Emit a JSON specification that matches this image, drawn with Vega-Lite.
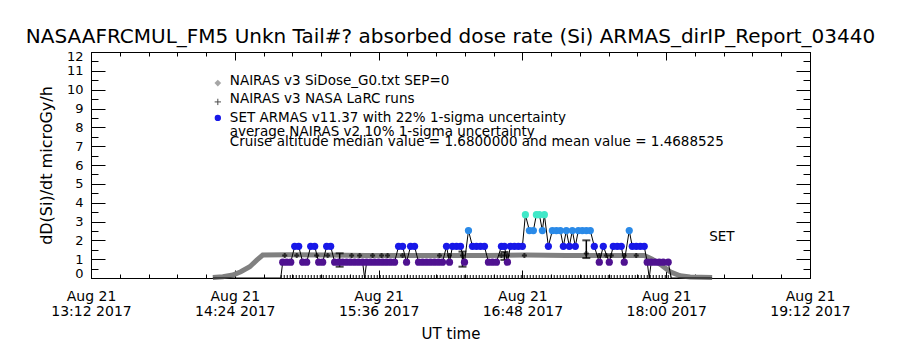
{
  "$schema": "https://vega.github.io/schema/vega-lite/v6.json",
  "width": 719,
  "height": 226,
  "autosize": "none",
  "padding": {"left": 91, "top": 52, "right": 90, "bottom": 72},
  "background": "white",
  "title": {"text": "NASAAFRCMUL_FM5 Unkn Tail#? absorbed dose rate (Si) ARMAS_dirIP_Report_03440", "font": "DejaVu Sans", "fontSize": 20, "fontWeight": "normal", "color": "black", "anchor": "middle", "frame": "group", "offset": 3},
  "config": {
    "view": {"stroke": null},
    "axis": {"grid": false, "domainColor": "black", "tickColor": "black", "labelColor": "black", "titleColor": "black", "labelFont": "DejaVu Sans", "titleFont": "DejaVu Sans", "titleFontWeight": "normal", "domainWidth": 1, "tickWidth": 1}
  },
  "datasets": {
    "nairas": [
      {"t": "2017-08-21T14:13:00Z", "v": 0.03},
      {"t": "2017-08-21T14:18:00Z", "v": 0.07},
      {"t": "2017-08-21T14:23:00Z", "v": 0.16},
      {"t": "2017-08-21T14:27:00Z", "v": 0.33},
      {"t": "2017-08-21T14:31:30Z", "v": 0.6},
      {"t": "2017-08-21T14:35:00Z", "v": 0.95},
      {"t": "2017-08-21T14:38:00Z", "v": 1.22},
      {"t": "2017-08-21T14:50:00Z", "v": 1.23},
      {"t": "2017-08-21T15:10:00Z", "v": 1.22},
      {"t": "2017-08-21T15:30:00Z", "v": 1.2},
      {"t": "2017-08-21T15:50:00Z", "v": 1.2},
      {"t": "2017-08-21T16:10:00Z", "v": 1.19},
      {"t": "2017-08-21T16:30:00Z", "v": 1.2},
      {"t": "2017-08-21T16:50:00Z", "v": 1.22},
      {"t": "2017-08-21T17:10:00Z", "v": 1.2},
      {"t": "2017-08-21T17:30:00Z", "v": 1.2},
      {"t": "2017-08-21T17:49:00Z", "v": 1.2},
      {"t": "2017-08-21T17:53:00Z", "v": 1.0},
      {"t": "2017-08-21T17:58:00Z", "v": 0.65},
      {"t": "2017-08-21T18:02:00Z", "v": 0.33},
      {"t": "2017-08-21T18:07:00Z", "v": 0.12},
      {"t": "2017-08-21T18:12:00Z", "v": 0.05},
      {"t": "2017-08-21T18:23:00Z", "v": 0.03}
    ],
    "ground": [
      {"t": "2017-08-21T14:47:00Z", "v": 0},
      {"t": "2017-08-21T18:02:30Z", "v": 0}
    ],
    "armas": [
      {"t": "2017-08-21T14:13:00Z", "v": 0},
      {"t": "2017-08-21T14:47:00Z", "v": 0},
      {"t": "2017-08-21T14:48:00Z", "v": 0.84},
      {"t": "2017-08-21T14:50:00Z", "v": 0.84},
      {"t": "2017-08-21T14:52:00Z", "v": 0.84},
      {"t": "2017-08-21T14:54:00Z", "v": 1.68},
      {"t": "2017-08-21T14:56:00Z", "v": 1.68},
      {"t": "2017-08-21T14:58:00Z", "v": 0.84},
      {"t": "2017-08-21T15:00:00Z", "v": 0.84},
      {"t": "2017-08-21T15:02:00Z", "v": 1.68},
      {"t": "2017-08-21T15:04:00Z", "v": 1.68},
      {"t": "2017-08-21T15:06:00Z", "v": 0.84},
      {"t": "2017-08-21T15:08:00Z", "v": 0.84},
      {"t": "2017-08-21T15:10:00Z", "v": 1.68},
      {"t": "2017-08-21T15:12:00Z", "v": 1.68},
      {"t": "2017-08-21T15:14:00Z", "v": 0.84},
      {"t": "2017-08-21T15:16:00Z", "v": 0.84},
      {"t": "2017-08-21T15:18:00Z", "v": 0.84},
      {"t": "2017-08-21T15:20:00Z", "v": 0.84},
      {"t": "2017-08-21T15:22:00Z", "v": 0.84},
      {"t": "2017-08-21T15:24:00Z", "v": 0.84},
      {"t": "2017-08-21T15:26:00Z", "v": 0.84},
      {"t": "2017-08-21T15:28:00Z", "v": 0.84},
      {"t": "2017-08-21T15:29:00Z", "v": 0},
      {"t": "2017-08-21T15:30:00Z", "v": 0.84},
      {"t": "2017-08-21T15:32:00Z", "v": 0.84},
      {"t": "2017-08-21T15:34:00Z", "v": 0.84},
      {"t": "2017-08-21T15:36:00Z", "v": 0.84},
      {"t": "2017-08-21T15:38:00Z", "v": 0.84},
      {"t": "2017-08-21T15:40:00Z", "v": 0.84},
      {"t": "2017-08-21T15:42:00Z", "v": 0.84},
      {"t": "2017-08-21T15:44:00Z", "v": 0.84},
      {"t": "2017-08-21T15:46:00Z", "v": 1.68},
      {"t": "2017-08-21T15:48:00Z", "v": 1.68},
      {"t": "2017-08-21T15:50:00Z", "v": 0.84},
      {"t": "2017-08-21T15:52:00Z", "v": 1.68},
      {"t": "2017-08-21T15:54:00Z", "v": 1.68},
      {"t": "2017-08-21T15:56:00Z", "v": 0.84},
      {"t": "2017-08-21T15:58:00Z", "v": 0.84},
      {"t": "2017-08-21T16:00:00Z", "v": 0.84},
      {"t": "2017-08-21T16:02:00Z", "v": 0.84},
      {"t": "2017-08-21T16:04:00Z", "v": 0.84},
      {"t": "2017-08-21T16:06:00Z", "v": 0.84},
      {"t": "2017-08-21T16:08:00Z", "v": 0.84},
      {"t": "2017-08-21T16:10:00Z", "v": 1.68},
      {"t": "2017-08-21T16:11:30Z", "v": 0.84},
      {"t": "2017-08-21T16:13:00Z", "v": 1.68},
      {"t": "2017-08-21T16:15:00Z", "v": 1.68},
      {"t": "2017-08-21T16:17:00Z", "v": 1.68},
      {"t": "2017-08-21T16:19:00Z", "v": 0.84},
      {"t": "2017-08-21T16:21:00Z", "v": 2.52},
      {"t": "2017-08-21T16:23:00Z", "v": 1.68},
      {"t": "2017-08-21T16:25:00Z", "v": 1.68},
      {"t": "2017-08-21T16:27:00Z", "v": 1.68},
      {"t": "2017-08-21T16:29:00Z", "v": 1.68},
      {"t": "2017-08-21T16:31:00Z", "v": 0.84},
      {"t": "2017-08-21T16:33:00Z", "v": 0.84},
      {"t": "2017-08-21T16:35:00Z", "v": 0.84},
      {"t": "2017-08-21T16:37:30Z", "v": 1.68},
      {"t": "2017-08-21T16:39:00Z", "v": 1.68},
      {"t": "2017-08-21T16:40:30Z", "v": 0.84},
      {"t": "2017-08-21T16:42:00Z", "v": 1.68},
      {"t": "2017-08-21T16:44:00Z", "v": 1.68},
      {"t": "2017-08-21T16:46:00Z", "v": 1.68},
      {"t": "2017-08-21T16:48:00Z", "v": 1.68},
      {"t": "2017-08-21T16:49:30Z", "v": 3.36},
      {"t": "2017-08-21T16:51:30Z", "v": 2.52},
      {"t": "2017-08-21T16:53:30Z", "v": 2.52},
      {"t": "2017-08-21T16:55:00Z", "v": 3.36},
      {"t": "2017-08-21T16:56:30Z", "v": 3.36},
      {"t": "2017-08-21T16:58:00Z", "v": 2.52},
      {"t": "2017-08-21T16:59:00Z", "v": 3.36},
      {"t": "2017-08-21T17:01:00Z", "v": 1.68},
      {"t": "2017-08-21T17:03:00Z", "v": 2.52},
      {"t": "2017-08-21T17:05:00Z", "v": 2.52},
      {"t": "2017-08-21T17:07:00Z", "v": 2.52},
      {"t": "2017-08-21T17:08:30Z", "v": 1.68},
      {"t": "2017-08-21T17:10:00Z", "v": 2.52},
      {"t": "2017-08-21T17:11:30Z", "v": 1.68},
      {"t": "2017-08-21T17:13:00Z", "v": 2.52},
      {"t": "2017-08-21T17:14:30Z", "v": 1.68},
      {"t": "2017-08-21T17:16:00Z", "v": 2.52},
      {"t": "2017-08-21T17:18:00Z", "v": 2.52},
      {"t": "2017-08-21T17:20:00Z", "v": 2.52},
      {"t": "2017-08-21T17:22:00Z", "v": 2.52},
      {"t": "2017-08-21T17:24:00Z", "v": 1.68},
      {"t": "2017-08-21T17:26:30Z", "v": 0.84},
      {"t": "2017-08-21T17:28:30Z", "v": 1.68},
      {"t": "2017-08-21T17:31:30Z", "v": 0.84},
      {"t": "2017-08-21T17:33:30Z", "v": 1.68},
      {"t": "2017-08-21T17:35:30Z", "v": 1.68},
      {"t": "2017-08-21T17:37:30Z", "v": 1.68},
      {"t": "2017-08-21T17:39:00Z", "v": 0.84},
      {"t": "2017-08-21T17:41:30Z", "v": 2.52},
      {"t": "2017-08-21T17:43:00Z", "v": 1.68},
      {"t": "2017-08-21T17:45:00Z", "v": 1.68},
      {"t": "2017-08-21T17:47:00Z", "v": 1.68},
      {"t": "2017-08-21T17:49:00Z", "v": 1.68},
      {"t": "2017-08-21T17:50:30Z", "v": 0.84},
      {"t": "2017-08-21T17:51:30Z", "v": 0},
      {"t": "2017-08-21T17:52:30Z", "v": 0.84},
      {"t": "2017-08-21T17:54:30Z", "v": 0.84},
      {"t": "2017-08-21T17:56:30Z", "v": 0.84},
      {"t": "2017-08-21T17:58:30Z", "v": 0.84},
      {"t": "2017-08-21T18:01:00Z", "v": 0.84},
      {"t": "2017-08-21T18:02:30Z", "v": 0},
      {"t": "2017-08-21T18:23:00Z", "v": 0}
    ],
    "larc": [
      {"t": "2017-08-21T14:49:00Z", "v": 1.2},
      {"t": "2017-08-21T14:55:00Z", "v": 1.2},
      {"t": "2017-08-21T15:05:00Z", "v": 1.2},
      {"t": "2017-08-21T15:10:30Z", "v": 1.2},
      {"t": "2017-08-21T15:22:30Z", "v": 1.2},
      {"t": "2017-08-21T15:26:30Z", "v": 1.2},
      {"t": "2017-08-21T15:33:00Z", "v": 1.2},
      {"t": "2017-08-21T15:37:30Z", "v": 1.2},
      {"t": "2017-08-21T15:40:30Z", "v": 1.2},
      {"t": "2017-08-21T15:48:00Z", "v": 1.2},
      {"t": "2017-08-21T16:06:30Z", "v": 1.2},
      {"t": "2017-08-21T16:11:30Z", "v": 1.2},
      {"t": "2017-08-21T16:18:00Z", "v": 1.2},
      {"t": "2017-08-21T16:37:30Z", "v": 1.2},
      {"t": "2017-08-21T16:40:30Z", "v": 1.2},
      {"t": "2017-08-21T16:49:00Z", "v": 1.2},
      {"t": "2017-08-21T17:20:00Z", "v": 1.3},
      {"t": "2017-08-21T17:26:30Z", "v": 1.2},
      {"t": "2017-08-21T17:30:00Z", "v": 1.2},
      {"t": "2017-08-21T17:32:30Z", "v": 1.2},
      {"t": "2017-08-21T17:39:00Z", "v": 1.2},
      {"t": "2017-08-21T17:45:00Z", "v": 1.2}
    ],
    "larcerr": [
      {"t": "2017-08-21T15:16:30Z", "lo": 0.6, "hi": 1.31},
      {"t": "2017-08-21T16:18:00Z", "lo": 0.6, "hi": 1.4},
      {"t": "2017-08-21T16:39:00Z", "lo": 0.96, "hi": 1.38},
      {"t": "2017-08-21T17:20:00Z", "lo": 1.06, "hi": 2.0}
    ],
    "legsym": [
      {"t": "2017-08-21T14:15:30Z", "v": 10.35, "k": "gray"},
      {"t": "2017-08-21T14:15:30Z", "v": 9.35, "k": "plus"},
      {"t": "2017-08-21T14:15:30Z", "v": 8.5, "k": "blue"}
    ],
    "notes": [
      {"t": "2017-08-21T14:21:30Z", "v": 10.46, "text": "NAIRAS v3 SiDose_G0.txt SEP=0"},
      {"t": "2017-08-21T14:21:30Z", "v": 9.5, "text": "NAIRAS v3 NASA LaRC runs"},
      {"t": "2017-08-21T14:21:30Z", "v": 8.52, "text": "SET ARMAS v11.37 with 22% 1-sigma uncertainty"},
      {"t": "2017-08-21T14:21:30Z", "v": 7.73, "text": "average NAIRAS v2 10% 1-sigma uncertainty"},
      {"t": "2017-08-21T14:21:30Z", "v": 7.22, "text": "Cruise altitude median value = 1.6800000 and mean value = 1.4688525"},
      {"t": "2017-08-21T18:21:30Z", "v": 2.18, "text": "SET"}
    ]
  },
  "resolve": {"axis": {"x": "independent", "y": "independent"}},
  "layer": [
    {
      "data": {"name": "nairas"},
      "mark": {"type": "line", "color": "#808080", "strokeWidth": 5},
      "encoding": {
        "x": {"field": "t", "type": "temporal",
          "scale": {"type": "utc", "domain": [1503321120000, 1503342720000], "nice": false},
          "axis": {"orient": "bottom",
            "values": [1503321120000,1503325440000,1503329760000,1503334080000,1503338400000,1503342720000],
            "labelExpr": "['Aug 21', utcFormat(datum.value, '%H:%M %Y')]",
            "labelFontSize": 14, "labelLineHeight": 15, "labelPadding": 19, "labelFlush": false, "labelOverlap": false, "labelBound": false,
            "tickSize": -8,
            "title": "UT time", "titleFontSize": 15, "titlePadding": 8}
        },
        "y": {"field": "v", "type": "quantitative",
          "scale": {"domain": [0, 12], "nice": false},
          "axis": {"orient": "left",
            "values": [0,1,2,3,4,5,6,7,8,9,10,11,12],
            "format": "d",
            "labelFontSize": 13, "labelPadding": 22, "labelFlush": true, "labelFlushOffset": 2, "labelOverlap": false,
            "tickSize": -14,
            "title": "dD(Si)/dt microGy/h", "titleFontSize": 16, "titlePadding": 12}
        }
      }
    },
    {
      "data": {"name": "ground"},
      "mark": {"type": "line", "color": "black", "strokeWidth": 6, "strokeDash": [1, 2], "clip": true},
      "encoding": {
        "x": {"field": "t", "type": "temporal",
          "axis": {"orient": "top",
            "values": [1503321120000,1503325440000,1503329760000,1503334080000,1503338400000,1503342720000],
            "labels": false, "tickSize": -8, "title": null}
        },
        "y": {"field": "v", "type": "quantitative",
          "axis": {"orient": "right",
            "values": [0,1,2,3,4,5,6,7,8,9,10,11,12],
            "labels": false, "tickSize": -14, "title": null}
        }
      }
    },
    {
      "data": {"name": "armas"},
      "mark": {"type": "line", "color": "black", "strokeWidth": 1},
      "encoding": {
        "x": {"field": "t", "type": "temporal",
          "axis": {"orient": "bottom",
            "values": [1503321984000,1503322848000,1503323712000,1503324576000,1503326304000,1503327168000,1503328032000,1503328896000,1503330624000,1503331488000,1503332352000,1503333216000,1503334944000,1503335808000,1503336672000,1503337536000,1503339264000,1503340128000,1503340992000,1503341856000],
            "labels": false, "tickSize": -4, "title": null}
        },
        "y": {"field": "v", "type": "quantitative",
          "axis": {"orient": "left",
            "values": [0.5,1.5,2.5,3.5,4.5,5.5,6.5,7.5,8.5,9.5,10.5,11.5],
            "labels": false, "tickSize": -7, "title": null}
        }
      }
    },
    {
      "data": {"name": "larcerr"},
      "mark": {"type": "errorbar", "color": "black", "thickness": 1.5, "ticks": {"size": 8, "thickness": 2, "color": "black"}},
      "encoding": {
        "x": {"field": "t", "type": "temporal", "axis": null},
        "y": {"field": "lo", "type": "quantitative", "axis": null},
        "y2": {"field": "hi"}
      }
    },
    {
      "data": {"name": "larc"},
      "mark": {"type": "point", "shape": "M-1,0H1M0,-1V1", "filled": false, "stroke": "black", "strokeWidth": 2, "size": 25},
      "encoding": {
        "x": {"field": "t", "type": "temporal",
          "axis": {"orient": "top",
            "values": [1503321984000,1503322848000,1503323712000,1503324576000,1503326304000,1503327168000,1503328032000,1503328896000,1503330624000,1503331488000,1503332352000,1503333216000,1503334944000,1503335808000,1503336672000,1503337536000,1503339264000,1503340128000,1503340992000,1503341856000],
            "labels": false, "tickSize": -4, "title": null}
        },
        "y": {"field": "v", "type": "quantitative",
          "axis": {"orient": "right",
            "values": [0.5,1.5,2.5,3.5,4.5,5.5,6.5,7.5,8.5,9.5,10.5,11.5],
            "labels": false, "tickSize": -7, "title": null}
        }
      }
    },
    {
      "data": {"name": "armas"},
      "transform": [{"filter": "datum.v > 0"}],
      "mark": {"type": "point", "shape": "circle", "filled": true, "opacity": 1, "size": 52},
      "encoding": {
        "x": {"field": "t", "type": "temporal", "axis": null},
        "y": {"field": "v", "type": "quantitative", "axis": null},
        "color": {"field": "v", "type": "ordinal", "scale": {"domain": [0.84, 1.68, 2.52, 3.36], "range": ["#4f1290", "#1818e8", "#2a8ae8", "#40e8c8"]}, "legend": null}
      }
    },
    {
      "data": {"name": "legsym"},
      "transform": [{"filter": "datum.k === 'gray'"}],
      "mark": {"type": "point", "shape": "diamond", "filled": true, "color": "#808080", "size": 45},
      "encoding": {
        "x": {"field": "t", "type": "temporal", "axis": null},
        "y": {"field": "v", "type": "quantitative", "axis": null}
      }
    },
    {
      "data": {"name": "legsym"},
      "transform": [{"filter": "datum.k === 'plus'"}],
      "mark": {"type": "point", "shape": "M-1,0H1M0,-1V1", "filled": false, "stroke": "black", "strokeWidth": 1, "size": 40},
      "encoding": {
        "x": {"field": "t", "type": "temporal", "axis": null},
        "y": {"field": "v", "type": "quantitative", "axis": null}
      }
    },
    {
      "data": {"name": "legsym"},
      "transform": [{"filter": "datum.k === 'blue'"}],
      "mark": {"type": "point", "shape": "circle", "filled": true, "color": "#1818e8", "opacity": 1, "size": 40},
      "encoding": {
        "x": {"field": "t", "type": "temporal", "axis": null},
        "y": {"field": "v", "type": "quantitative", "axis": null}
      }
    },
    {
      "data": {"name": "notes"},
      "mark": {"type": "text", "align": "left", "baseline": "middle", "font": "DejaVu Sans", "fontSize": 13.5, "color": "black"},
      "encoding": {
        "x": {"field": "t", "type": "temporal", "axis": null},
        "y": {"field": "v", "type": "quantitative", "axis": null},
        "text": {"field": "text"}
      }
    }
  ]
}
